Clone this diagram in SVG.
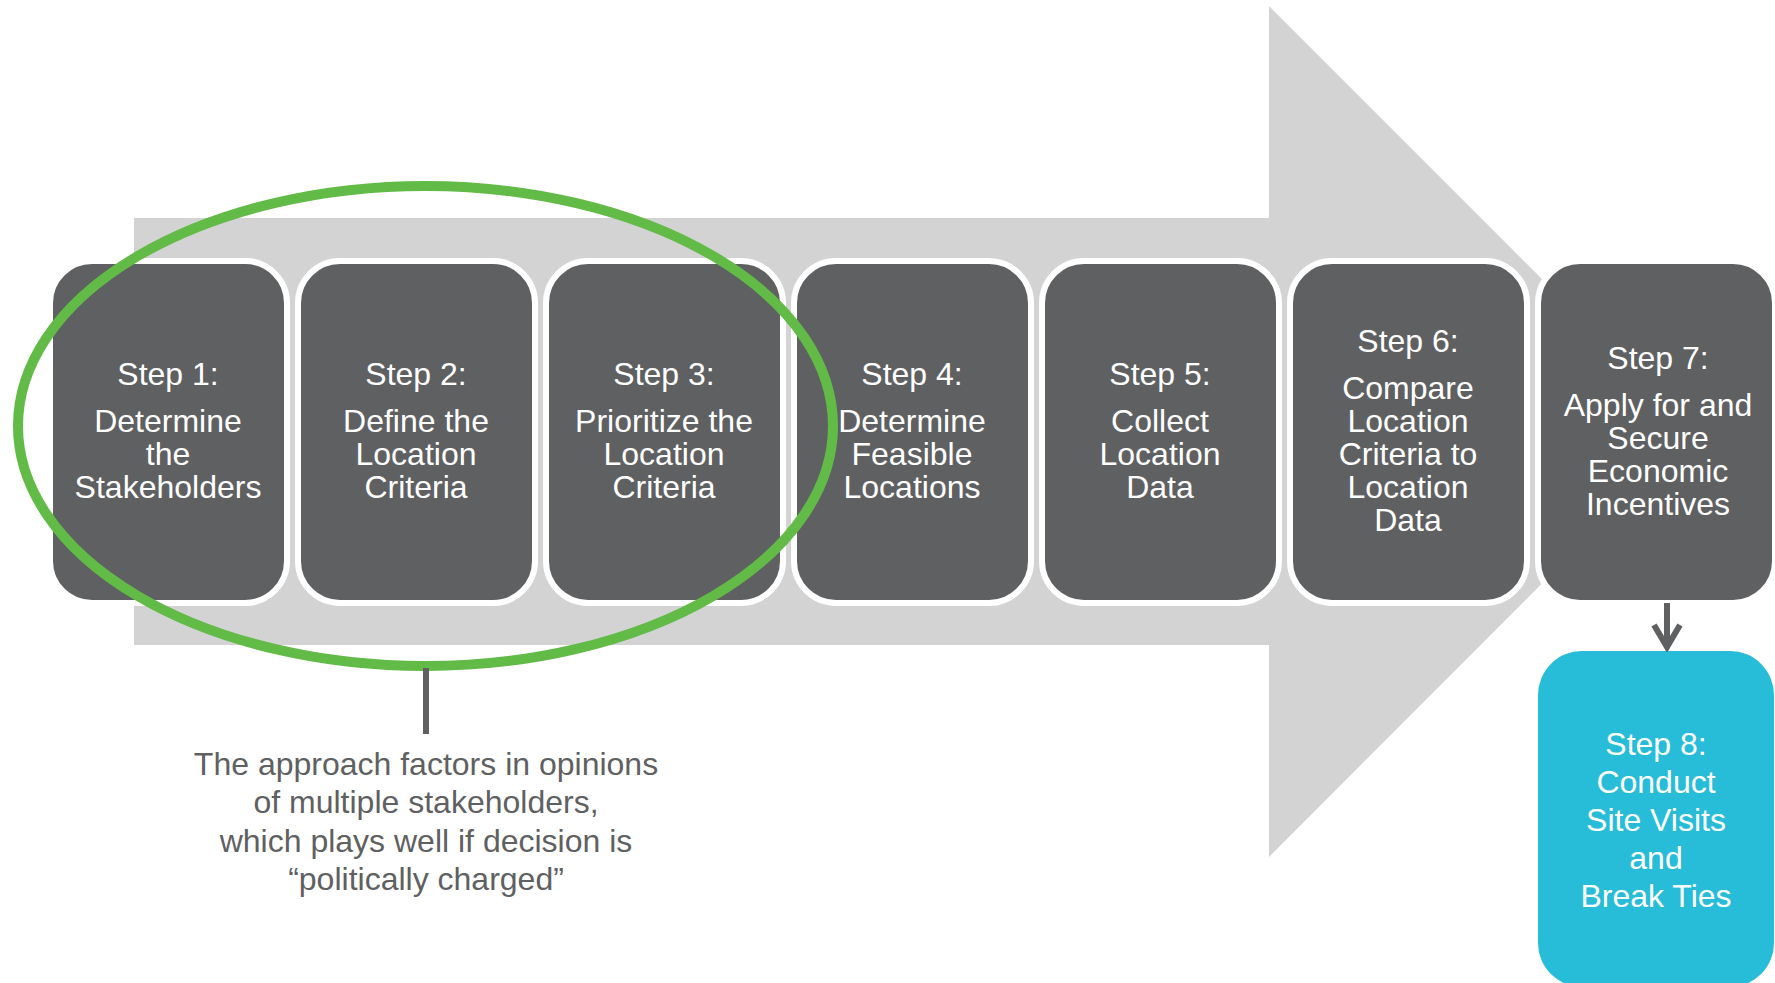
<svg xmlns="http://www.w3.org/2000/svg" width="1775" height="983" viewBox="0 0 1775 983">
  <style>
    .step { fill: #5f6062; stroke: #ffffff; stroke-width: 6; }
    .final { fill: #27bcd7; }
    .lbl { font-family: "Liberation Sans", Arial, sans-serif; font-size: 32px; fill: #ffffff; text-anchor: middle; }
    .note { font-family: "Liberation Sans", Arial, sans-serif; font-size: 32px; fill: #5f6062; text-anchor: middle; }
    .conn { stroke: #5f6062; stroke-width: 6; fill: none; }
  </style>
  <defs>
    <marker id="chevron" markerUnits="userSpaceOnUse" markerWidth="32" markerHeight="32" viewBox="0 0 32 32" refX="27" refY="16" orient="auto">
      <path d="M5,3 L27,16 L5,29" fill="none" stroke="#5f6062" stroke-width="6"/>
    </marker>
  </defs>

  <rect width="1775" height="983" fill="#ffffff"/>

  <!-- big background process arrow -->
  <polygon id="process-arrow" points="134,218 1269,218 1269,6 1694,431 1269,857 1269,645 134,645" fill="#d3d3d3"/>

  <g id="step1">
    <rect class="step" x="50" y="261" width="237" height="342" rx="42"/>
    <text class="lbl" x="168" y="385">Step 1:</text>
    <text class="lbl" x="168" y="432">Determine</text>
    <text class="lbl" x="168" y="465">the</text>
    <text class="lbl" x="168" y="498">Stakeholders</text>
  </g>
  <g id="step2">
    <rect class="step" x="298" y="261" width="237" height="342" rx="42"/>
    <text class="lbl" x="416" y="385">Step 2:</text>
    <text class="lbl" x="416" y="432">Define the</text>
    <text class="lbl" x="416" y="465">Location</text>
    <text class="lbl" x="416" y="498">Criteria</text>
  </g>
  <g id="step3">
    <rect class="step" x="546" y="261" width="237" height="342" rx="42"/>
    <text class="lbl" x="664" y="385">Step 3:</text>
    <text class="lbl" x="664" y="432">Prioritize the</text>
    <text class="lbl" x="664" y="465">Location</text>
    <text class="lbl" x="664" y="498">Criteria</text>
  </g>
  <g id="step4">
    <rect class="step" x="794" y="261" width="237" height="342" rx="42"/>
    <text class="lbl" x="912" y="385">Step 4:</text>
    <text class="lbl" x="912" y="432">Determine</text>
    <text class="lbl" x="912" y="465">Feasible</text>
    <text class="lbl" x="912" y="498">Locations</text>
  </g>
  <g id="step5">
    <rect class="step" x="1042" y="261" width="237" height="342" rx="42"/>
    <text class="lbl" x="1160" y="385">Step 5:</text>
    <text class="lbl" x="1160" y="432">Collect</text>
    <text class="lbl" x="1160" y="465">Location</text>
    <text class="lbl" x="1160" y="498">Data</text>
  </g>
  <g id="step6">
    <rect class="step" x="1290" y="261" width="237" height="342" rx="42"/>
    <text class="lbl" x="1408" y="352">Step 6:</text>
    <text class="lbl" x="1408" y="399">Compare</text>
    <text class="lbl" x="1408" y="432">Location</text>
    <text class="lbl" x="1408" y="465">Criteria to</text>
    <text class="lbl" x="1408" y="498">Location</text>
    <text class="lbl" x="1408" y="531">Data</text>
  </g>
  <g id="step7">
    <rect class="step" x="1538" y="261" width="237" height="342" rx="42"/>
    <text class="lbl" x="1658" y="369">Step 7:</text>
    <text class="lbl" x="1658" y="416">Apply for and</text>
    <text class="lbl" x="1658" y="449">Secure</text>
    <text class="lbl" x="1658" y="482">Economic</text>
    <text class="lbl" x="1658" y="515">Incentives</text>
  </g>
  <g id="step8">
    <rect class="final" x="1538" y="651" width="236" height="336" rx="44"/>
    <text class="lbl" x="1656" y="755">Step 8:</text>
    <text class="lbl" x="1656" y="793">Conduct</text>
    <text class="lbl" x="1656" y="831">Site Visits</text>
    <text class="lbl" x="1656" y="869">and</text>
    <text class="lbl" x="1656" y="907">Break Ties</text>
  </g>

  <!-- highlight around steps 1-3 -->
  <g id="highlight">
    <ellipse cx="425.5" cy="426" rx="407.5" ry="240" fill="none" stroke="#62bb47" stroke-width="10"/>
  </g>

  <g id="connectors">
    <path class="conn" d="M1667,603 V647" marker-end="url(#chevron)"/>
    <path class="conn" d="M426,668 V734"/>
  </g>

  <g id="note">
    <text class="note" x="426" y="775">The approach factors in opinions</text>
    <text class="note" x="426" y="813">of multiple stakeholders,</text>
    <text class="note" x="426" y="852">which plays well if decision is</text>
    <text class="note" x="426" y="890">“politically charged”</text>
  </g>
</svg>
